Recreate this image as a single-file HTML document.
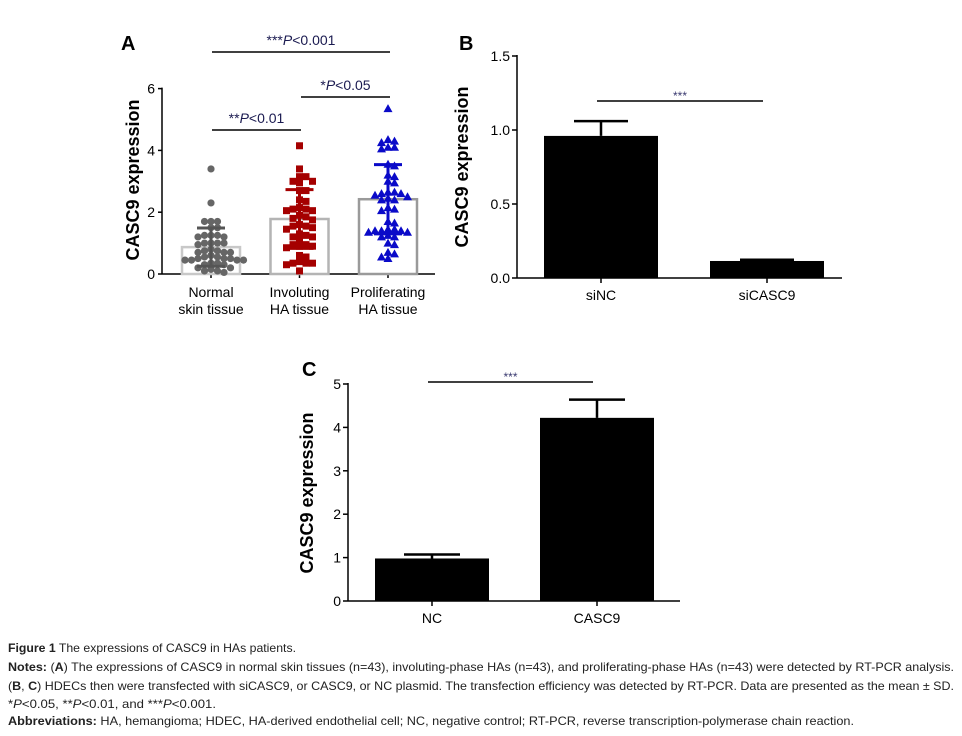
<!DOCTYPE html>
<html><head><meta charset="utf-8"><style>
body{margin:0;background:#fff;}
svg{display:block;font-family:"Liberation Sans",Arial,sans-serif;}
</style></head><body>
<svg id="fig" width="962" height="736" viewBox="0 0 962 736">
</svg>
<script>
// ---- Panel A data ----
const catsA = ["Normal|skin tissue","Involuting|HA tissue","Proliferating|HA tissue"];
const meansA = [0.87, 1.78, 2.42];
const sdA = [0.62, 0.95, 1.12];
const normalVals = [3.4,2.3,1.7,1.7,1.7,1.5,1.5,1.25,1.25,1.25,1.2,1.2,1.0,1.0,1.0,1.0,0.95,0.8,0.75,0.75,0.7,0.7,0.7,0.6,0.55,0.55,0.5,0.5,0.5,0.45,0.45,0.45,0.45,0.35,0.35,0.3,0.3,0.2,0.2,0.15,0.1,0.1,0.05];
const involVals = [4.15,3.4,3.15,3.15,3.0,3.0,2.95,2.7,2.7,2.4,2.35,2.15,2.1,2.1,2.05,2.05,1.9,1.85,1.8,1.75,1.6,1.55,1.55,1.5,1.45,1.3,1.25,1.2,1.2,1.1,0.95,0.95,0.9,0.9,0.85,0.6,0.55,0.4,0.35,0.35,0.35,0.3,0.1];
const prolifVals = [5.35,4.35,4.3,4.25,4.1,4.1,4.05,3.55,3.5,3.2,3.15,3.0,2.95,2.65,2.65,2.6,2.6,2.55,2.5,2.45,2.4,2.4,2.15,2.1,2.05,1.7,1.65,1.45,1.45,1.4,1.4,1.4,1.35,1.35,1.25,1.2,1.2,1.0,0.95,0.7,0.65,0.55,0.5];
const ticksA = [0,2,4,6];
// ---- Panel B data ----
const catsB = ["siNC","siCASC9"];
const valsB = [0.96, 0.115];
const errB = [0.10, 0.008];
const ticksB = ["0.0","0.5","1.0","1.5"];
// ---- Panel C data ----
const catsC = ["NC","CASC9"];
const valsC = [0.98, 4.22];
const errC = [0.09, 0.42];
const ticksC = [0,1,2,3,4,5];

const NS="http://www.w3.org/2000/svg";
const svg=document.getElementById('fig');
function el(tag,attrs,parent,txt){const e=document.createElementNS(NS,tag);for(const k in attrs)e.setAttribute(k,attrs[k]);if(txt!==undefined)e.textContent=txt;(parent||svg).appendChild(e);return e;}

// ================= Panel A =================
const gA=el('g',{});


const yA=v=>274-v*30.9;
const xA=i=>211+i*88.5;
let t=el('text',{x:121,y:50,'font-size':20,'font-weight':'bold'},gA,'A');

el('line',{x1:162,y1:yA(6)-1,x2:162,y2:274,stroke:'#000','stroke-width':1.5},gA);
el('line',{x1:162,y1:274,x2:435,y2:274,stroke:'#000','stroke-width':1.5},gA);
ticksA.forEach(v=>{
  el('line',{x1:158,y1:yA(v),x2:162,y2:yA(v),stroke:'#000','stroke-width':1.5},gA);
  const tt=el('text',{x:155,y:yA(v)+5,'font-size':14,'text-anchor':'end'},gA,String(v));
  
});
t=el('text',{transform:'translate(139,180) rotate(-90)','font-size':18,'font-weight':'bold','text-anchor':'middle'},gA,'CASC9 expression');

const colorsA=['#666666','#a50000','#0a0ac8'];
const barColA=['#c8c8c8','#b4b4b4','#9a9a9a'];
const groupsA=[normalVals,involVals,prolifVals];
groupsA.forEach((vals,i)=>{
  const cx=xA(i);
  el('line',{x1:cx,y1:274,x2:cx,y2:278,stroke:'#000','stroke-width':1.5},gA);
  const b=el('rect',{x:cx-29,y:yA(meansA[i]),width:58,height:274-yA(meansA[i]),fill:'none',stroke:barColA[i],'stroke-width':2.5},gA);
  
  const placed=[];const d=6;
  vals.forEach(v=>{
    const py=yA(v);let off=0;
    for(let k=0;k<40;k++){
      const o=(k%2?1:-1)*Math.ceil(k/2)*6.5;
      if(placed.every(p=>Math.hypot(p[0]-(cx+o),p[1]-py)>=d)){off=o;break;}
    }
    const px=cx+off;placed.push([px,py]);
    let m;
    if(i===0) m=el('circle',{cx:px,cy:py,r:3.6,fill:colorsA[0]},gA);
    else if(i===1) m=el('rect',{x:px-3.5,y:py-3.5,width:7,height:7,fill:colorsA[1]},gA);
    else m=el('polygon',{points:`${px},${py-4.5} ${px+4.5},${py+3.5} ${px-4.5},${py+3.5}`,fill:colorsA[2]},gA);
    
  });
  const top=yA(meansA[i]+sdA[i]),bot=yA(meansA[i]-sdA[i]);
  const sc=i===0?'#555':colorsA[i];
  const eb=el('path',{d:`M${cx},${bot}V${top}M${cx-14},${top}H${cx+14}M${cx-14},${bot}H${cx+14}`,stroke:sc,'stroke-width':3,fill:'none'},gA);
  
  const [l1,l2]=catsA[i].split('|');
  const xl=el('text',{x:cx,y:297,'font-size':14,'text-anchor':'middle'},gA,l1);
  
  const xl2=el('text',{x:cx,y:314,'font-size':14,'text-anchor':'middle'},gA,l2);
  
});
function sig(g,x1,x2,y,label,ty,name){
  const l=el('line',{x1:x1,y1:y,x2:x2,y2:y,stroke:'#000','stroke-width':1.5},g);
  
  const tx=el('text',{x:(x1+x2)/2,y:ty,'font-size':14,'text-anchor':'middle',fill:'#1a1a50'},g);
  
  tx.innerHTML=label;
}
sig(gA,212,390,52,'***<tspan font-style="italic">P</tspan>&lt;0.001',45,'sig-normal-prolif');
sig(gA,212,301,130,'**<tspan font-style="italic">P</tspan>&lt;0.01',123,'sig-normal-involuting');
sig(gA,301,390,97,'*<tspan font-style="italic">P</tspan>&lt;0.05',90,'sig-involuting-prolif');

// ================= Bar panels =================
function barPanel(name,letter,lx,ly,axX,y0,scale,ymax,xEnd,ticks,tickVals,cats,vals,errs,centers,halfW,capHalf,sigX1,sigX2,sigY,titleX,titleY){
  const g=el('g',{});
  
  const y=v=>y0-v*scale;
  let t=el('text',{x:lx,y:ly,'font-size':20,'font-weight':'bold'},g,letter);
  
  el('line',{x1:axX,y1:y(ymax)-1,x2:axX,y2:y0,stroke:'#000','stroke-width':1.5},g);
  el('line',{x1:axX,y1:y0,x2:xEnd,y2:y0,stroke:'#000','stroke-width':1.5},g);
  ticks.forEach((lab,k)=>{
    const v=tickVals[k];
    el('line',{x1:axX-5,y1:y(v),x2:axX,y2:y(v),stroke:'#000','stroke-width':1.5},g);
    const tt=el('text',{x:axX-7,y:y(v)+5,'font-size':14,'text-anchor':'end'},g,lab);
    
  });
  t=el('text',{transform:`translate(${titleX},${titleY}) rotate(-90)`,'font-size':18,'font-weight':'bold','text-anchor':'middle'},g,'CASC9 expression');
  
  cats.forEach((c,i)=>{
    const cx=centers[i];
    const top=y(vals[i]+errs[i]);
    const eb=el('path',{d:`M${cx},${y(vals[i])}V${top}M${cx},${top}H${cx+capHalf}M${cx},${top}H${cx-capHalf}`,stroke:'#000','stroke-width':2.5,fill:'none'},g);
    
    const b=el('rect',{x:cx-halfW,y:y(vals[i]),width:halfW*2,height:y0-y(vals[i]),fill:'#000'},g);
    
    el('line',{x1:cx,y1:y0,x2:cx,y2:y0+5,stroke:'#000','stroke-width':1.5},g);
    const xl=el('text',{x:cx,y:y0+22,'font-size':14,'text-anchor':'middle'},g,c);
    
  });
  const l=el('line',{x1:sigX1,y1:sigY,x2:sigX2,y2:sigY,stroke:'#000','stroke-width':1.5},g);
  
  const s=el('text',{x:(sigX1+sigX2)/2,y:sigY-1,'font-size':12,'text-anchor':'middle',fill:'#3a3a70'},g,'***');
  
}
barPanel('panel-b','B',459,50,517,278,148,1.5,842,ticksB,ticksB.map(Number),catsB,valsB,errB,[601,767],57,27,597,763,101,468,167);
barPanel('panel-c','C',302,376,348,601,43.4,5,680,ticksC.map(String),ticksC,catsC,valsC,errC,[432,597],57,28,428,593,382,313,493);

// ================= Caption =================
const cap=el('g',{'font-size':12,fill:'#222'});

const lines=[
 [652,'<tspan font-weight="bold">Figure 1</tspan> The expressions of CASC9 in HAs patients.',288],
 [671,'<tspan font-weight="bold">Notes:</tspan> (<tspan font-weight="bold">A</tspan>) The expressions of CASC9 in normal skin tissues (n=43), involuting-phase HAs (n=43), and proliferating-phase HAs (n=43) were detected by RT-PCR analysis.',946],
 [690,'(<tspan font-weight="bold">B</tspan>, <tspan font-weight="bold">C</tspan>) HDECs then were transfected with siCASC9, or CASC9, or NC plasmid. The transfection efficiency was detected by RT-PCR. Data are presented as the mean ± SD.',946],
 [708,'*<tspan font-style="italic">P</tspan>&lt;0.05, **<tspan font-style="italic">P</tspan>&lt;0.01, and ***<tspan font-style="italic">P</tspan>&lt;0.001.',208],
 [725,'<tspan font-weight="bold">Abbreviations:</tspan> HA, hemangioma; HDEC, HA-derived endothelial cell; NC, negative control; RT-PCR, reverse transcription-polymerase chain reaction.',846]
];
lines.forEach(([yy,h,w])=>{
  const tx=el('text',{x:8,y:yy,textLength:w,lengthAdjust:'spacingAndGlyphs'},cap);
  
  tx.innerHTML=h;
});
</script>
</body></html>
